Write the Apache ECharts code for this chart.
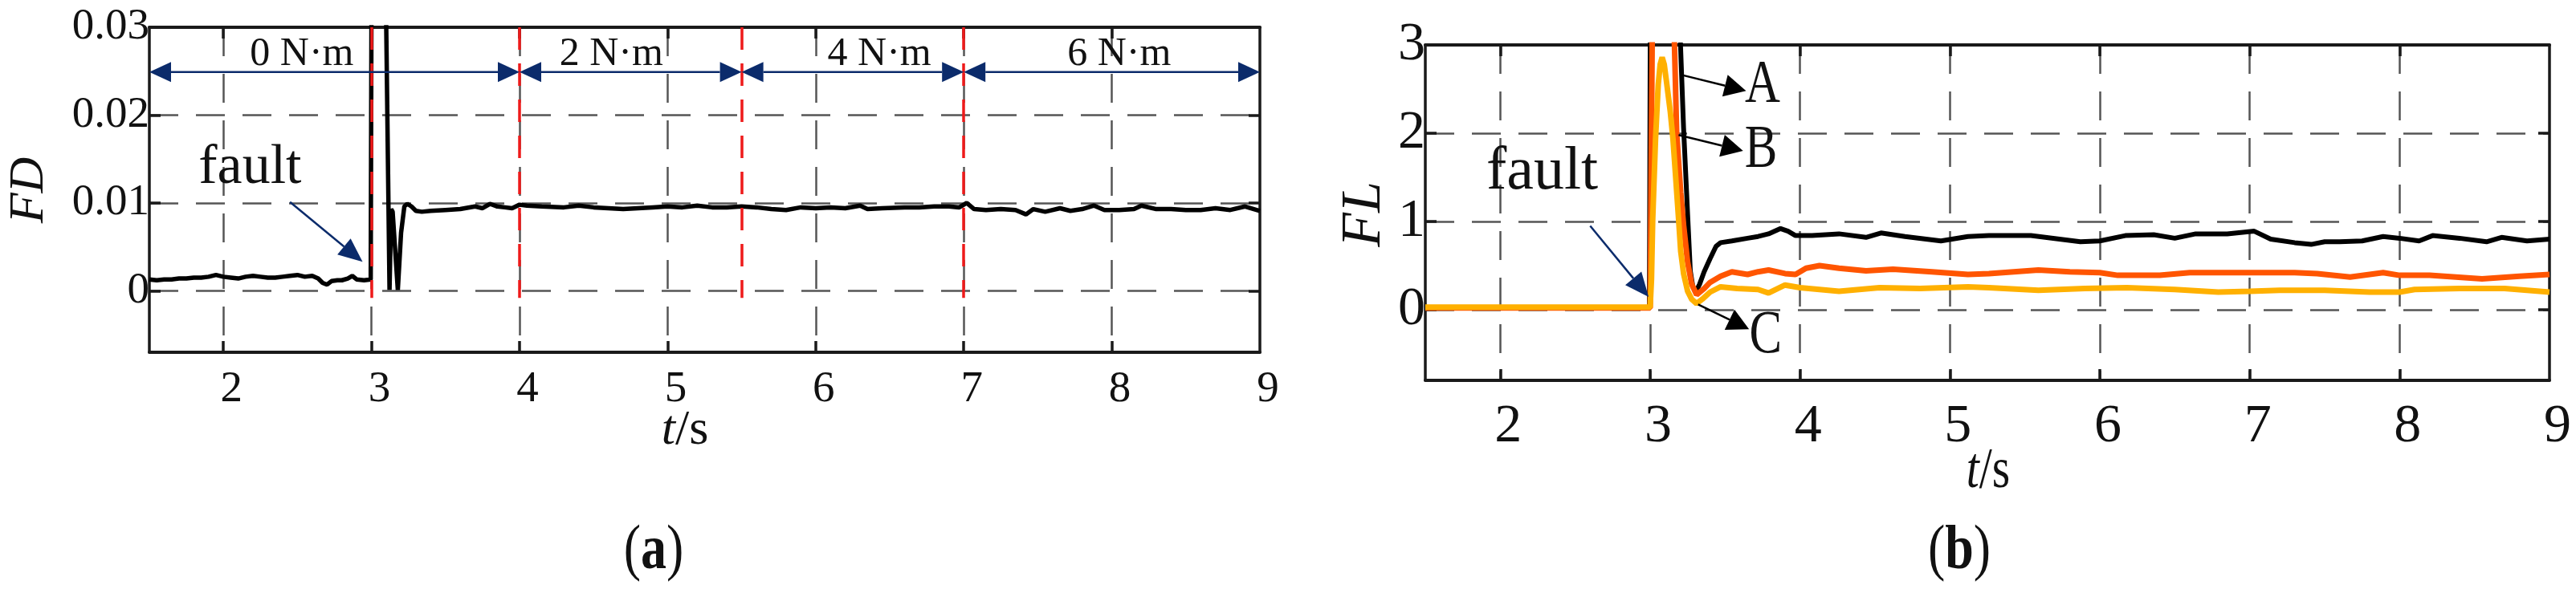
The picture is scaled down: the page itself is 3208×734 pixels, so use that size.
<!DOCTYPE html>
<html>
<head>
<meta charset="UTF-8">
<title>FD and FL after the fault</title>
<script src="https://cdn.jsdelivr.net/npm/echarts@6.0.0/dist/echarts.min.js"></script>
<style>
    html, body { margin: 0; padding: 0; background: #fff; }
    #chart { width: 3208px; height: 734px; }
</style>
</head>
<body>
<div id="chart"></div>
<script>
// panel (a): FD
var tFD = [1.5, 1.55, 1.6, 1.65, 1.7, 1.75, 1.8, 1.85, 1.9, 1.95, 2.0, 2.05, 2.1, 2.15, 2.2, 2.25, 2.3, 2.35, 2.4, 2.45,
    2.5, 2.55, 2.6, 2.64, 2.67, 2.7, 2.73, 2.77, 2.8, 2.84, 2.87, 2.9, 2.95, 2.995,
    3.003, 3.085, 3.122, 3.133, 3.143, 3.178, 3.2, 3.222, 3.242, 3.27, 3.3, 3.34, 3.4, 3.5, 3.6, 3.7, 3.75, 3.8, 3.85, 3.9, 3.95,
    4.0, 4.05, 4.15, 4.3, 4.4, 4.5, 4.6, 4.7, 4.8, 4.9, 5.0, 5.1, 5.2, 5.3, 5.4, 5.5, 5.6, 5.7, 5.8, 5.9,
    6.0, 6.1, 6.2, 6.3, 6.35, 6.45, 6.6, 6.7, 6.8, 6.9, 6.97, 7.02, 7.07, 7.15, 7.25, 7.35, 7.42, 7.47, 7.55, 7.65, 7.72, 7.8, 7.88, 7.95,
    8.05, 8.15, 8.2, 8.3, 8.4, 8.5, 8.6, 8.7, 8.8, 8.9, 9.0];
var fd = [0.0013, 0.0012, 0.0013, 0.0013, 0.0014, 0.0014, 0.0015, 0.0015, 0.0016, 0.0018, 0.0016, 0.0015, 0.0014, 0.0016, 0.0017, 0.0016, 0.0015, 0.0015, 0.0016, 0.0017,
    0.0018, 0.0016, 0.0017, 0.0014, 0.0009, 0.0007, 0.0011, 0.0012, 0.0012, 0.0014, 0.0017, 0.0013, 0.0012, 0.0013,
    0.05, 0.05, 0.0001, 0.0093, 0.0090, 0.0001, 0.0066, 0.0096, 0.0099, 0.0096, 0.0091, 0.0090, 0.0091, 0.0092, 0.0093, 0.0096, 0.0094, 0.0099, 0.0096, 0.0095, 0.0094,
    0.0098, 0.0097, 0.0096, 0.0095, 0.0097, 0.0095, 0.0094, 0.0093, 0.0094, 0.0095, 0.0096, 0.0095, 0.0097, 0.0095, 0.0095, 0.0096, 0.0095, 0.0093, 0.0092, 0.0095,
    0.0094, 0.0095, 0.0094, 0.0097, 0.0093, 0.0094, 0.0095, 0.0095, 0.0096, 0.0096, 0.0095, 0.0100, 0.0093, 0.0092, 0.0093, 0.0092, 0.0087, 0.0093, 0.0090, 0.0094, 0.0091, 0.0093, 0.0097, 0.0092,
    0.0092, 0.0093, 0.0097, 0.0093, 0.0093, 0.0092, 0.0092, 0.0094, 0.0092, 0.0096, 0.0091];

// panel (b): FL, curves A, B, C
var tA = [1.5, 2.0, 2.5, 2.995, 3.003, 3.17, 3.223, 3.25, 3.268, 3.285, 3.304, 3.33, 3.36, 3.4, 3.44, 3.47, 3.545, 3.65, 3.72, 3.79, 3.87, 3.92, 3.97,
    4.08, 4.26, 4.44, 4.54, 4.7, 4.94, 5.12, 5.26, 5.54, 5.87, 6.0, 6.17, 6.36, 6.5, 6.64, 6.85, 7.03, 7.14, 7.3, 7.41, 7.5, 7.6, 7.75, 7.89,
    8.0, 8.13, 8.22, 8.4, 8.58, 8.68, 8.85, 9.0];
var flA = [0.02, 0.02, 0.025, 0.02, 4.5, 4.5, 2.06, 1.08, 0.44, 0.26, 0.2, 0.29, 0.43, 0.58, 0.72, 0.76, 0.78, 0.81, 0.83, 0.86, 0.92, 0.89, 0.84,
    0.84, 0.86, 0.82, 0.87, 0.83, 0.78, 0.83, 0.84, 0.84, 0.77, 0.78, 0.84, 0.85, 0.81, 0.86, 0.86, 0.89, 0.8, 0.76, 0.74, 0.77, 0.77, 0.78, 0.83,
    0.81, 0.78, 0.84, 0.81, 0.77, 0.82, 0.78, 0.8];
var tB = [1.5, 2.0, 2.5, 3.0, 3.02, 3.14, 3.177, 3.204, 3.223, 3.25, 3.277, 3.31, 3.36, 3.4, 3.47, 3.545, 3.65, 3.72, 3.79, 3.9, 3.97,
    4.04, 4.13, 4.26, 4.44, 4.62, 4.88, 5.12, 5.26, 5.59, 5.8, 6.0, 6.12, 6.4, 6.6, 7.03, 7.3, 7.45, 7.67, 7.89, 8.0, 8.2, 8.55, 8.8, 9.0];
var flB = [0.02, 0.02, 0.02, 0.02, 4.5, 4.5, 2.0, 1.33, 0.96, 0.54, 0.29, 0.17, 0.24, 0.31, 0.38, 0.43, 0.4, 0.43, 0.45, 0.41, 0.4,
    0.47, 0.5, 0.47, 0.44, 0.46, 0.43, 0.4, 0.41, 0.45, 0.43, 0.42, 0.39, 0.39, 0.42, 0.42, 0.42, 0.41, 0.37, 0.42, 0.39, 0.39, 0.35, 0.38, 0.4];
var tC = [1.5, 2.0, 2.5, 3.0, 3.009, 3.017, 3.036, 3.054, 3.067, 3.08, 3.094, 3.107, 3.134, 3.152, 3.17, 3.19, 3.204, 3.223, 3.25, 3.277, 3.31, 3.348,
    3.4, 3.47, 3.58, 3.72, 3.79, 3.9, 4.0, 4.26, 4.53, 4.8, 5.12, 5.26, 5.59, 5.9, 6.18, 6.5, 6.79, 7.0, 7.2, 7.5, 7.8, 8.0, 8.1, 8.4, 8.7, 9.0];
var flC = [0.03, 0.03, 0.03, 0.03, 0.35, 1.02, 1.94, 2.55, 2.78, 2.86, 2.78, 2.61, 2.25, 1.94, 1.51, 1.02, 0.66, 0.41, 0.21, 0.12, 0.07, 0.12,
    0.2, 0.26, 0.24, 0.23, 0.19, 0.28, 0.25, 0.21, 0.25, 0.24, 0.26, 0.25, 0.22, 0.24, 0.25, 0.23, 0.2, 0.21, 0.22, 0.22, 0.2, 0.2, 0.23, 0.24, 0.24, 0.2];

// axes
var xTickLabels = [2, 3, 4, 5, 6, 7, 8, 9];
var xGridTicks = [2, 3, 4, 5, 6, 7, 8];
var yLabelsFD = [0, 0.01, 0.02, 0.03];
var yGridFD = [0, 0.01, 0.02];
var yLabelsFL = [0, 1, 2, 3];
var yGridFL = [0, 1, 2];

// load steps in panel (a)
var torqueEdges = [1.5, 4, 5.5, 7, 9];
var torqueNames = ['0 N·m', '2 N·m', '4 N·m', '6 N·m'];
var torqueNameX = [2.53, 4.62, 6.43, 8.05];
var redLines = [3, 4, 5.5, 7];

var FONT = '"Liberation Serif", "Times New Roman", serif';
var NAVY = '#0b2b6b';

function pairs(xs, ys) {
    return xs.map(function (x, i) { return [x, ys[i]]; });
}

function xAxes(grid, top, labelSize, labelMargin) {
    return {
        type: 'value', gridIndex: grid, position: top ? 'top' : 'bottom',
        min: 1.5, max: 9,
        axisLine: { show: true, onZero: false, lineStyle: { color: '#1a1a1a', width: 4 } },
        axisTick: { show: true, inside: true, length: 14, customValues: xGridTicks,
            lineStyle: { color: '#1a1a1a', width: 3.5 } },
        axisLabel: { show: !top, customValues: xTickLabels, fontFamily: FONT, fontSize: labelSize,
            color: '#111', margin: labelMargin, padding: [0, 0, 0, 20] },
        splitLine: { show: !top, lineStyle: { color: '#555', width: 2.5, type: [36, 22] } }
    };
}

function yAxes(grid, right, min, max, labels, ticks, labelSize) {
    return {
        type: 'value', gridIndex: grid, position: right ? 'right' : 'left',
        min: min, max: max,
        axisLine: { show: true, onZero: false, lineStyle: { color: '#1a1a1a', width: 3.5 } },
        axisTick: { show: true, inside: true, length: 14, customValues: ticks,
            lineStyle: { color: '#1a1a1a', width: 3.5 } },
        axisLabel: { show: !right, customValues: labels, fontFamily: FONT, fontSize: labelSize,
            color: '#111', margin: 0, padding: [14, 0, 0, 0] },
        splitLine: { show: !right, lineStyle: { color: '#555', width: 2.5, type: [36, 22] } }
    };
}

var chart = echarts.init(document.getElementById('chart'));

chart.setOption({
    animation: false,
    backgroundColor: '#fff',
    grid: [
        { left: 186, top: 34, width: 1383, height: 405 },
        { left: 1775, top: 56, width: 1400, height: 418 }
    ],
    xAxis: [
        xAxes(0, false, 55, 19), xAxes(0, true, 55, 19),
        xAxes(1, false, 68, 24), xAxes(1, true, 68, 24)
    ],
    yAxis: [
        yAxes(0, false, -0.007, 0.03, yLabelsFD, yGridFD, 55),
        yAxes(0, true, -0.007, 0.03, yLabelsFD, yGridFD, 55),
        yAxes(1, false, -0.8, 3, yLabelsFL, yGridFL, 68),
        yAxes(1, true, -0.8, 3, yLabelsFL, yGridFL, 68)
    ],
    series: [
        {
            name: 'FD', type: 'line', xAxisIndex: 0, yAxisIndex: 0,
            data: pairs(tFD, fd), showSymbol: false, clip: true,
            lineStyle: { color: '#000', width: 5.5 },
            markLine: {
                silent: true, symbol: 'none', z: 5,
                label: { show: false },
                lineStyle: { color: '#ee1a1a', width: 3.5, type: [28, 17] },
                data: redLines.map(function (x) {
                    return [{ coord: [x, 0.03] }, { coord: [x, -0.0008] }];
                })
            }
        },
        {
            name: 'A', type: 'line', xAxisIndex: 2, yAxisIndex: 2,
            data: pairs(tA, flA), showSymbol: false, clip: true,
            lineStyle: { color: '#000', width: 6 }
        },
        {
            name: 'B', type: 'line', xAxisIndex: 2, yAxisIndex: 2,
            data: pairs(tB, flB), showSymbol: false, clip: true,
            lineStyle: { color: '#ff5500', width: 7 }
        },
        {
            name: 'C', type: 'line', xAxisIndex: 2, yAxisIndex: 2,
            data: pairs(tC, flC), showSymbol: false, clip: true,
            lineStyle: { color: '#ffb000', width: 7 }
        }
    ]
});

// annotations: texts and arrows placed from data coordinates
function px(si, p) { return chart.convertToPixel({ seriesIndex: si }, p); }

function text(x, y, str, size, opts) {
    opts = opts || {};
    return {
        type: 'text', x: x, y: y, z: 100,
        rotation: opts.rotation || 0, scaleX: opts.scaleX || 1,
        style: {
            text: str, fill: '#111', align: 'center', verticalAlign: 'middle',
            fontFamily: FONT, fontSize: size, fontStyle: opts.italic ? 'italic' : 'normal',
            rich: opts.rich
        }
    };
}

function head(tip, ux, uy, len, wid, color) {
    var bx = tip[0] - ux * len, by = tip[1] - uy * len;
    return {
        type: 'polygon', z: 100,
        shape: { points: [[tip[0], tip[1]], [bx - uy * wid / 2, by + ux * wid / 2], [bx + uy * wid / 2, by - ux * wid / 2]] },
        style: { fill: color }
    };
}

function arrow(si, from, to, color, lw, len, wid, both) {
    var a = px(si, from), b = px(si, to);
    var dx = b[0] - a[0], dy = b[1] - a[1], L = Math.sqrt(dx * dx + dy * dy);
    var ux = dx / L, uy = dy / L;
    var s = both ? [a[0] + ux * len, a[1] + uy * len] : a;
    var out = [
        { type: 'line', z: 100, shape: { x1: s[0], y1: s[1], x2: b[0] - ux * len, y2: b[1] - uy * len },
          style: { stroke: color, lineWidth: lw } },
        head(b, ux, uy, len, wid, color)
    ];
    if (both) out.push(head(a, -ux, -uy, len, wid, color));
    return out;
}

var g = [];

// panel (a)
for (var i = 0; i < torqueNames.length; i++) {
    g = g.concat(arrow(0, [torqueEdges[i], 0.0249], [torqueEdges[i + 1], 0.0249], NAVY, 2.5, 27, 25, true));
    var p = px(0, [torqueNameX[i], 0.0269]);
    g.push(text(p[0], p[1], torqueNames[i], 50));
}
var pf = px(0, [2.18, 0.014]);
g.push(text(pf[0], pf[1], 'fault', 70));
g = g.concat(arrow(0, [2.45, 0.0101], [2.94, 0.0033], NAVY, 2.5, 30, 26));
g.push(text(37, 237, 'FD', 62, { italic: true, rotation: Math.PI / 2 }));
g.push(text(853, 537, '{i|t}/s', 62, { rich: { i: { fontFamily: FONT, fontSize: 62, fontStyle: 'italic' } } }));
g.push(text(814, 688, '({b|a})', 78, { scaleX: 0.82, rich: { b: { fontFamily: FONT, fontSize: 78, fontWeight: 'bold' } } }));

// panel (b)
var pf2 = px(1, [2.28, 1.55]);
g.push(text(pf2[0], pf2[1], 'fault', 76));
g = g.concat(arrow(1, [2.6, 0.95], [2.99, 0.145], NAVY, 2.5, 30, 26));
g = g.concat(arrow(1, [3.21, 2.66], [3.64, 2.48], '#000', 2.5, 27, 28));
g = g.concat(arrow(1, [3.19, 1.98], [3.62, 1.8], '#000', 2.5, 27, 28));
g = g.concat(arrow(1, [3.32, 0.06], [3.66, -0.22], '#000', 2.5, 27, 28));
[['A', 3.75, 2.54], ['B', 3.74, 1.8], ['C', 3.77, -0.3]].forEach(function (l) {
    var q = px(1, [l[1], l[2]]);
    g.push(text(q[0], q[1], l[0], 76, { scaleX: 0.8 }));
});
g.push(text(1700, 267, 'FL', 70, { italic: true, rotation: Math.PI / 2 }));
g.push(text(2476, 588, '{i|t}/s', 72, { scaleX: 0.8, rich: { i: { fontFamily: FONT, fontSize: 72, fontStyle: 'italic' } } }));
g.push(text(2440, 688, '({b|b})', 78, { scaleX: 0.82, rich: { b: { fontFamily: FONT, fontSize: 78, fontWeight: 'bold' } } }));

chart.setOption({ graphic: g });
</script>
</body>
</html>
